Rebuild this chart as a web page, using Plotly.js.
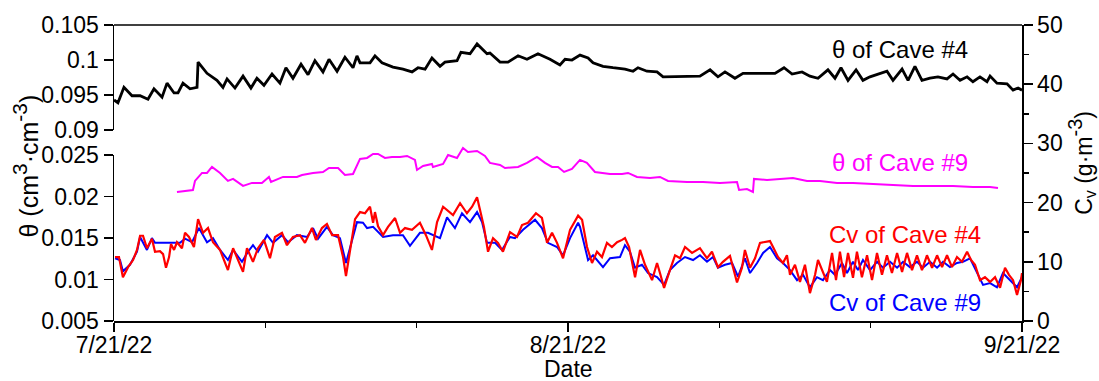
<!DOCTYPE html>
<html>
<head>
<meta charset="utf-8">
<script src="https://cdn.plot.ly/plotly-3.0.1.min.js"></script>
<style>html,body{margin:0;padding:0;background:#fff;}#chart{width:1099px;height:381px;}</style>
</head>
<body>
<div id="chart"></div>
<script>
// Days elapsed since 7/21/22 00:00 paired with values
const thetaCave4 = [[0,0.0943],[0.27,0.0939],[0.68,0.0961],[1.23,0.0949],[1.78,0.0949],[2.32,0.0944],[2.73,0.0959],[3.28,0.0947],[3.62,0.0967],[4.10,0.0953],
[4.37,0.0953],[4.71,0.0967],[5.19,0.0959],[5.67,0.0961],[5.74,0.0997],[6.35,0.0981],[7.03,0.0971],[7.44,0.0961],[7.72,0.0973],[8.26,0.0960],
[8.81,0.0977],[9.35,0.0960],[9.76,0.0974],[10.24,0.0964],[10.79,0.0980],[11.33,0.0967],[11.74,0.0989],[12.22,0.0974],[12.77,0.0994],[13.25,0.0979],
[13.72,0.0999],[14.27,0.0983],[14.68,0.1001],[15.23,0.0984],[15.77,0.1004],[16.32,0.0989],[16.59,0.1006],[16.80,0.0996],[17.48,0.0996],[17.82,0.1006],
[18.30,0.0996],[19.05,0.0990],[19.73,0.0987],[20.35,0.0983],[20.76,0.0989],[21.24,0.0987],[21.71,0.1003],[22.26,0.0991],[22.60,0.0997],[23.42,0.0999],
[23.69,0.1011],[24.31,0.1009],[24.79,0.1023],[25.47,0.1009],[25.67,0.1010],[26.36,0.0997],[26.90,0.0997],[27.59,0.1006],[28.20,0.1001],[28.95,0.1009],
[29.77,0.1001],[30.45,0.0993],[30.80,0.1001],[31.27,0.1000],[31.82,0.1007],[32.37,0.1003],[32.71,0.0996],[33.39,0.0991],[34.07,0.0989],[34.89,0.0987],
[35.44,0.0984],[35.78,0.0989],[36.39,0.0984],[37.08,0.0983],[37.49,0.0976],[38.44,0.0976],[39.33,0.0976],[40.01,0.0977],[40.70,0.0986],[41.24,0.0976],
[41.72,0.0983],[42.40,0.0974],[42.95,0.0981],[43.63,0.0981],[44.32,0.0981],[45.13,0.0981],[45.75,0.0989],[46.30,0.0980],[46.98,0.0983],[47.52,0.0977],
[48.07,0.0974],[48.75,0.0986],[49.23,0.0974],[49.64,0.0989],[50.12,0.0971],[50.67,0.0986],[51.14,0.0971],[51.62,0.0976],[52.78,0.0984],[53.19,0.0971],
[53.81,0.0987],[54.22,0.0971],[54.69,0.0991],[55.17,0.0971],[55.72,0.0974],[56.26,0.0976],[56.88,0.0973],[57.29,0.0980],[57.77,0.0971],[58.25,0.0976],
[58.65,0.0969],[59.13,0.0976],[59.61,0.0969],[59.82,0.0977],[60.29,0.0967],[60.98,0.0966],[61.39,0.0957],[61.73,0.0960],[62.0,0.0957]];

const thetaCave9 = [[4.30,0.02054],[4.85,0.02066],[5.39,0.02078],[5.53,0.02187],[6.01,0.02283],[6.35,0.02283],[6.69,0.02355],[7.24,0.02283],[7.78,0.02187],[8.13,0.02211],
[8.81,0.02127],[9.42,0.02163],[10.10,0.02163],[10.58,0.02235],[10.72,0.02175],[11.54,0.02235],[12.49,0.02235],[12.84,0.02259],[13.59,0.02283],[14.27,0.02295],
[14.68,0.02343],[15.30,0.02343],[15.77,0.02259],[16.32,0.02271],[16.80,0.02452],[17.28,0.02464],[17.69,0.02512],[18.03,0.02512],[18.50,0.02464],[18.98,0.02476],
[19.53,0.02476],[20.01,0.02488],[20.55,0.0244],[20.69,0.02319],[21.10,0.02367],[21.71,0.02392],[21.78,0.02355],[22.47,0.02392],[22.81,0.025],[23.42,0.02464],
[23.83,0.02584],[24.17,0.02536],[24.79,0.02548],[25.33,0.02488],[25.67,0.02404],[26.36,0.0238],[26.70,0.02343],[27.59,0.02355],[28.20,0.02404],[28.88,0.02476],
[29.43,0.02404],[29.91,0.02355],[30.32,0.02355],[30.73,0.02295],[31.27,0.02331],[31.82,0.0244],[32.29,0.02404],[32.84,0.02295],[33.39,0.02283],[33.87,0.02271],
[34.69,0.02271],[35.10,0.02283],[35.71,0.02235],[36.60,0.02223],[37.28,0.02235],[37.83,0.02187],[39.13,0.02175],[40.22,0.02175],[41.38,0.02163],[42.54,0.02175],
[42.68,0.02078],[43.22,0.0209],[43.63,0.02054],[43.70,0.02211],[44.59,0.02199],[45.48,0.02211],[46.36,0.02223],[47.32,0.02187],[48.21,0.02187],[49.37,0.02163],
[50.46,0.02163],[51.83,0.02151],[53.19,0.02139],[54.56,0.02127],[55.92,0.02127],[57.29,0.02127],[58.65,0.02114],[59.82,0.02114],[60.36,0.02102]];

const cvCave4 = [[0.07,10.8],[0.34,10.8],[0.61,7.4],[0.96,9.1],[1.30,10.3],[1.57,12.0],[1.78,14.4],[1.98,14.4],[2.25,12.3],[2.59,13.9],[2.80,11.7],[3.14,11.8],[3.35,11.3],[3.55,9.0],[3.76,10.8],[3.89,13.0],[4.10,12.0],[4.30,13.3],[4.64,12.3],[4.85,14.9],[5.12,14.2],[5.46,12.5],[5.74,17.2],[6.08,14.9],[6.42,15.7],[6.76,13.3],[7.24,12.0],[7.78,8.6],[8.13,12.3],[8.40,10.6],[8.81,8.3],[9.08,12.3],[9.49,10.0],[9.83,12.3],[10.24,13.7],[10.65,10.6],[10.99,14.2],[11.47,14.9],[11.81,12.8],[12.22,14.2],[12.70,14.5],[13.04,13.2],[13.52,15.7],[13.79,13.7],[14.20,15.7],[14.54,16.4],[14.89,14.5],[15.30,14.5],[15.64,10.8],[15.84,7.6],[16.11,12.0],[16.46,17.2],[16.80,18.4],[17.14,18.2],[17.48,19.3],[17.69,16.6],[17.82,18.4],[18.03,16.0],[18.37,14.5],[18.71,15.9],[19.19,17.4],[19.53,14.9],[19.87,15.7],[20.35,15.4],[20.89,16.6],[21.30,14.5],[21.71,12.0],[22.06,16.7],[22.47,19.3],[22.74,18.8],[23.15,17.9],[23.63,19.9],[24.10,18.2],[24.45,19.3],[24.79,20.9],[24.99,18.8],[25.26,15.9],[25.54,11.7],[25.88,14.0],[26.22,13.2],[26.56,11.7],[27.04,15.0],[27.52,14.2],[27.86,16.2],[28.27,16.6],[28.81,18.2],[29.22,17.4],[29.57,13.2],[29.91,14.9],[30.25,13.2],[30.66,10.6],[31.14,15.4],[31.69,17.8],[31.96,17.1],[32.30,12.5],[32.64,9.8],[32.98,11.7],[33.32,10.8],[33.66,13.2],[34.00,12.5],[34.35,13.3],[34.69,13.7],[34.89,14.0],[35.17,12.5],[35.58,7.4],[35.92,12.0],[36.26,9.5],[36.74,6.9],[37.08,9.8],[37.28,8.1],[37.56,5.6],[37.96,8.6],[38.31,11.1],[38.65,10.6],[38.99,12.5],[39.47,11.5],[40.01,12.3],[40.49,10.6],[40.83,11.7],[41.24,9.1],[41.58,10.0],[42.06,11.0],[42.54,6.5],[42.88,9.0],[43.08,12.0],[43.43,9.0],[43.77,10.6],[44.11,13.2],[44.45,13.3],[44.79,13.5],[45.00,12.5],[45.34,10.8],[45.68,9.8],[45.95,11.1],[46.16,7.8],[46.50,9.5],[46.84,6.6],[47.18,9.5],[47.52,4.7],[47.87,7.8],[48.07,10.3],[48.41,8.1],[48.68,6.6],[49.03,11.5],[49.30,6.9],[49.57,11.7],[49.85,7.4],[50.12,11.5],[50.46,7.3],[50.73,11.7],[51.07,7.4],[51.42,11.1],[51.76,6.9],[52.10,11.5],[52.44,7.8],[52.78,11.1],[53.12,8.1],[53.47,11.5],[53.81,8.3],[54.15,11.5],[54.49,8.6],[54.83,11.1],[55.17,8.6],[55.51,11.1],[55.86,9.0],[56.20,11.1],[56.54,9.1],[56.88,11.1],[57.22,9.1],[57.56,10.8],[57.90,10.0],[58.25,11.7],[58.52,10.3],[58.79,9.5],[59.13,6.9],[59.47,7.4],[59.82,6.6],[60.16,7.4],[60.50,5.6],[60.84,9.0],[61.11,7.8],[61.39,6.9],[61.66,4.4],[61.93,6.9],[62.0,8.1]];

const cvCave9 = [[0.07,10.6],[0.41,10.3],[0.61,8.4],[1.09,9.5],[1.57,11.7],[1.78,14.2],[2.25,12.0],[2.59,14.0],[2.80,13.2],[4.51,13.2],[4.85,13.9],[5.33,13.3],[5.80,15.7],[6.35,13.3],[6.76,14.0],[7.24,12.0],[7.78,10.3],[8.13,12.0],[8.74,10.0],[9.15,11.7],[9.49,12.8],[9.83,11.7],[10.45,14.5],[10.86,13.2],[11.47,14.5],[11.88,13.3],[12.49,14.5],[13.18,14.2],[13.59,15.7],[13.93,13.9],[14.54,15.9],[14.95,14.5],[15.43,14.0],[15.84,9.8],[16.11,12.3],[16.59,16.7],[17.00,16.6],[17.28,15.7],[17.69,15.9],[18.37,14.2],[19.05,14.5],[19.73,14.5],[20.21,12.7],[20.89,14.9],[21.44,14.9],[22.26,14.0],[22.74,17.5],[23.28,15.7],[23.76,18.2],[24.31,16.7],[24.79,18.4],[25.13,16.7],[25.47,13.2],[26.02,13.2],[26.49,12.0],[27.04,14.2],[27.38,14.0],[27.93,15.4],[28.75,17.1],[29.22,15.7],[29.63,13.2],[30.25,12.5],[30.66,11.1],[31.14,14.0],[31.69,16.6],[31.82,15.9],[32.37,10.3],[32.71,11.1],[33.39,9.1],[33.87,10.6],[34.55,10.8],[34.89,12.8],[35.23,11.7],[35.58,9.0],[36.05,9.5],[36.46,8.1],[37.08,7.4],[37.56,6.1],[37.96,8.6],[38.44,9.8],[38.99,10.8],[39.54,10.3],[40.01,11.1],[40.49,10.0],[40.90,10.8],[41.24,9.0],[41.72,9.5],[42.20,9.8],[42.61,7.5],[43.08,10.6],[43.43,8.1],[43.91,9.8],[44.32,11.5],[44.79,12.5],[45.27,10.6],[45.68,9.8],[46.16,8.6],[46.64,6.9],[47.05,7.8],[47.52,5.7],[48.00,7.4],[48.41,6.9],[48.89,8.6],[49.23,7.8],[49.71,9.8],[50.05,8.1],[50.46,10.0],[50.80,8.6],[51.14,10.3],[51.62,8.6],[52.10,10.0],[52.51,9.0],[52.99,10.0],[53.47,9.0],[53.88,10.0],[54.35,9.1],[54.83,10.0],[55.24,9.0],[55.72,10.0],[56.20,9.0],[56.61,10.0],[57.08,9.1],[57.56,9.8],[57.97,10.0],[58.45,10.6],[58.93,8.1],[59.34,6.1],[59.82,6.4],[60.29,5.7],[60.70,8.1],[61.18,6.9],[61.66,5.7],[62.0,7.4]];

const startDate = Date.UTC(2022, 6, 21);
const majorTickDays = [0, 31, 62];
const majorTickText = ['7/21/22', '8/21/22', '9/21/22'];
const minorTickDays = [31/3, 62/3, 31 + 31/3, 31 + 62/3];
const thetaLowTicks = [0.005, 0.01, 0.015, 0.02, 0.025];
const thetaLowText = ['0.005', '0.01', '0.015', '0.02', '0.025'];
const thetaHighTicks = [0.09, 0.095, 0.1, 0.105];
const thetaHighText = ['0.09', '0.095', '0.1', '0.105'];
const cvTicks = [0, 10, 20, 30, 40, 50];

function toDate(d) {
  return new Date(startDate + d * 86400000).toISOString().slice(0, 19).replace('T', ' ');
}
const xs = arr => arr.map(p => toDate(p[0]));
const ys = arr => arr.map(p => p[1]);

const traces = [
  // empty trace so the lower θ axis subplot is created and drawn
  {x: [], y: [], xaxis: 'x', yaxis: 'y2', mode: 'lines', hoverinfo: 'skip', showlegend: false},
  {x: xs(thetaCave4), y: ys(thetaCave4), xaxis: 'x', yaxis: 'y3', mode: 'lines', line: {color: '#000000', width: 2.8}, name: 'θ of Cave #4'},
  {x: xs(thetaCave9), y: ys(thetaCave9), xaxis: 'x', yaxis: 'y4', mode: 'lines', line: {color: '#ff00ff', width: 2}, name: 'θ of Cave #9'},
  {x: xs(cvCave9), y: ys(cvCave9), xaxis: 'x', yaxis: 'y', mode: 'lines', line: {color: '#0000ff', width: 2}, name: 'Cv of Cave #9'},
  {x: xs(cvCave4), y: ys(cvCave4), xaxis: 'x', yaxis: 'y', mode: 'lines', line: {color: '#ff0000', width: 2.2}, name: 'Cv of Cave #4'}
];

const axisCommon = {showgrid: false, zeroline: false, showline: true, linecolor: '#000', linewidth: 1.5,
  ticks: 'outside', ticklen: 9, tickwidth: 1.5, tickcolor: '#000'};

// lower θ panel occupies 0..0.561 of the plot height; the full-height twin keeps the same scale
const lowDomainTop = 0.561;
const lowRange = [0.005, 0.025];
const lowFullRange = [lowRange[0], lowRange[0] + (lowRange[1] - lowRange[0]) / lowDomainTop];

const layout = {
  width: 1099, height: 381,
  margin: {l: 114, r: 77, t: 25, b: 60, pad: 0},
  paper_bgcolor: '#fff', plot_bgcolor: 'rgba(0,0,0,0)',
  showlegend: false,
  font: {family: 'Liberation Sans, Arial, sans-serif', size: 23, color: '#000'},
  xaxis: Object.assign({}, axisCommon, {
    type: 'date', anchor: 'y',
    range: [toDate(0), toDate(62)],
    tickmode: 'array', tickvals: majorTickDays.map(toDate), ticktext: majorTickText,
    ticklabelstandoff: -6,
    minor: {tickmode: 'array', tickvals: minorTickDays.map(toDate), ticks: 'outside', ticklen: 5, tickwidth: 1.5, tickcolor: '#000', showgrid: false}
  }),
  yaxis: Object.assign({}, axisCommon, {
    domain: [0, 1], range: [0, 50], side: 'right', anchor: 'x',
    tickmode: 'array', tickvals: cvTicks,
    minor: {dtick: 5, tick0: 0, ticks: 'outside', ticklen: 5, tickwidth: 1.5, tickcolor: '#000', showgrid: false}
  }),
  yaxis2: Object.assign({}, axisCommon, {
    domain: [0, lowDomainTop], range: lowRange, side: 'left', anchor: 'x',
    tickmode: 'array', tickvals: thetaLowTicks, ticktext: thetaLowText
  }),
  yaxis3: Object.assign({}, axisCommon, {
    domain: [0.645, 1], range: [0.09, 0.105], side: 'left', anchor: 'x',
    tickmode: 'array', tickvals: thetaHighTicks, ticktext: thetaHighText
  }),
  yaxis4: {overlaying: 'y', anchor: 'x', range: lowFullRange, visible: false, showgrid: false, zeroline: false},
  shapes: [
    {type: 'line', xref: 'paper', yref: 'paper', x0: 0, x1: 1, y0: 1, y1: 1, line: {color: '#000', width: 1.5}}
  ],
  annotations: [
    {text: 'θ of Cave #4', xref: 'paper', yref: 'paper', x: 0.789, y: 0.916, xanchor: 'left', yanchor: 'middle', showarrow: false, font: {size: 24, color: '#000'}},
    {text: 'θ of Cave #9', xref: 'paper', yref: 'paper', x: 0.789, y: 0.534, xanchor: 'left', yanchor: 'middle', showarrow: false, font: {size: 24, color: '#ff00ff'}},
    {text: 'Cv of Cave #4', xref: 'paper', yref: 'paper', x: 0.785, y: 0.291, xanchor: 'left', yanchor: 'middle', showarrow: false, font: {size: 24, color: '#ff0000'}},
    {text: 'Cv of Cave #9', xref: 'paper', yref: 'paper', x: 0.785, y: 0.064, xanchor: 'left', yanchor: 'middle', showarrow: false, font: {size: 24, color: '#0000ff'}},
    {text: 'θ (cm<sup><span style="font-size:21px">3</span></sup>·cm<sup><span style="font-size:21px">-3</span></sup>)', xref: 'paper', yref: 'paper', x: -0.097, y: 0.525, xanchor: 'center', yanchor: 'middle', textangle: -90, showarrow: false, font: {size: 25}},
    {text: 'C<sub>v</sub> (g·m<sup><span style="font-size:20px">-3</span></sup>)', xref: 'paper', yref: 'paper', x: 1.066, y: 0.534, xanchor: 'center', yanchor: 'middle', textangle: -90, showarrow: false, font: {size: 23}},
    {text: 'Date', xref: 'paper', yref: 'paper', x: 0.5, y: -0.162, xanchor: 'center', yanchor: 'middle', showarrow: false, font: {size: 23}}
  ]
};

Plotly.newPlot('chart', traces, layout, {staticPlot: true, displayModeBar: false});
</script>
</body>
</html>
